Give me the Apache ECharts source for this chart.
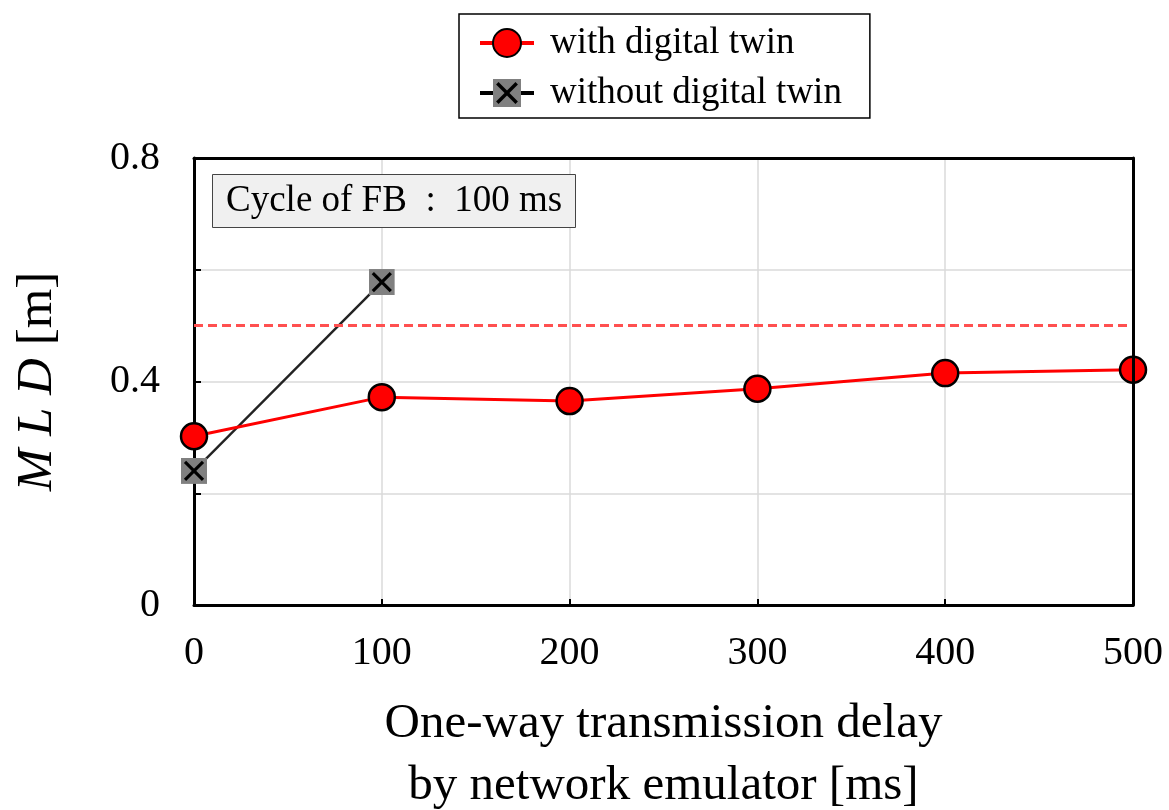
<!DOCTYPE html>
<html>
<head>
<meta charset="utf-8">
<script src="https://cdn.jsdelivr.net/npm/echarts@6/dist/echarts.min.js"></script>
<style>html,body{margin:0;padding:0;background:#fff}#c{width:1169px;height:810px}</style>
</head>
<body>
<div id="c"></div>
<script>
const delays = [0, 100, 200, 300, 400, 500];
const withTwin = [0.302, 0.372, 0.365, 0.387, 0.415, 0.421];
const withoutDelays = [0, 100];
const withoutTwin = [0.240, 0.578];
const thresholdValue = 0.5;
const yLabelsShown = ['0', '0.4', '0.8'];
const seriesNames = ['with digital twin', 'without digital twin'];
const noteText = 'Cycle of FB  :  100 ms';

const FONT = '"Liberation Serif", "DejaVu Serif", serif';
const xSvg = 'image://data:image/svg+xml;utf8,' + encodeURIComponent(
  '<svg xmlns="http://www.w3.org/2000/svg" width="26" height="26" viewBox="0 0 26 26">' +
  '<rect x="0" y="0" width="26" height="26" fill="#808080"/>' +
  '<line x1="4" y1="4" x2="22" y2="22" stroke="#000" stroke-width="3.2"/>' +
  '<line x1="22" y1="4" x2="4" y2="22" stroke="#000" stroke-width="3.2"/></svg>');

const frameAxis = {
  axisLine: {show: true, onZero: false, lineStyle: {color: '#000', width: 3}},
  axisTick: {show: false}, axisLabel: {show: false}, splitLine: {show: false}
};

const chart = echarts.init(document.getElementById('c'), null, {renderer: 'canvas'});
chart.setOption({
  backgroundColor: '#fff',
  animation: false,
  title: {
    text: noteText,
    left: 212, top: 174,
    padding: [8, 14, 8, 14],
    backgroundColor: '#f0f0f0',
    borderColor: '#444', borderWidth: 1,
    textStyle: {fontFamily: FONT, fontSize: 37, fontWeight: 'normal', color: '#000', lineHeight: 38}
  },
  legend: {
    orient: 'vertical',
    left: 459, top: 14,
    padding: [9, 28, 5, 19],
    itemGap: 10,
    itemWidth: 54, itemHeight: 35,
    borderColor: '#000', borderWidth: 1.5,
    textStyle: {fontFamily: FONT, fontSize: 37, color: '#000', lineHeight: 40, padding: [0, 0, 0, 11]},
    data: [
      {name: seriesNames[0], lineStyle: {width: 4}},
      {name: seriesNames[1], lineStyle: {width: 4, color: '#000'}}
    ]
  },
  grid: {left: 194, right: 36, top: 158, bottom: 205, outerBoundsMode: 'none', containLabel: false},
  xAxis: [{
    type: 'value', min: 0, max: 500, interval: 100,
    name: 'One-way transmission delay\nby network emulator [ms]',
    nameLocation: 'middle', nameGap: 88,
    nameTextStyle: {fontFamily: FONT, fontSize: 49, color: '#000', lineHeight: 62, verticalAlign: 'top'},
    axisLine: {onZero: false, lineStyle: {color: '#000', width: 3}},
    axisTick: {inside: true, length: 6, lineStyle: {color: '#000', width: 2}},
    axisLabel: {fontFamily: FONT, fontSize: 40, color: '#000', margin: 28},
    splitLine: {show: true, lineStyle: {color: '#dadada', width: 1.5}},
    z: 2
  }, Object.assign({type: 'value', position: 'top', min: 0, max: 500, interval: 100, z: 5}, frameAxis)],
  yAxis: [{
    type: 'value', min: 0, max: 0.8, interval: 0.2,
    name: '{i|M L D}{n| [m]}',
    nameLocation: 'middle', nameGap: 131, nameRotate: 90,
    nameTextStyle: {
      rich: {
        i: {fontFamily: FONT, fontSize: 51, fontStyle: 'italic', color: '#000'},
        n: {fontFamily: FONT, fontSize: 51, color: '#000'}
      }
    },
    axisLine: {onZero: false, lineStyle: {color: '#000', width: 3}},
    axisTick: {inside: true, length: 7, lineStyle: {color: '#000', width: 2}},
    axisLabel: {
      fontFamily: FONT, fontSize: 40, color: '#000', margin: 34,
      formatter: function (v) {
        const s = String(Math.round(v * 10) / 10);
        return yLabelsShown.indexOf(s) >= 0 ? s : '';
      }
    },
    splitLine: {show: true, lineStyle: {color: '#dadada', width: 1.5}},
    z: 2
  }, Object.assign({type: 'value', position: 'right', min: 0, max: 0.8, interval: 0.2, z: 5}, frameAxis)],
  series: [
    {
      name: seriesNames[1],
      type: 'line',
      data: withoutDelays.map((d, i) => [d, withoutTwin[i]]),
      symbol: xSvg, symbolSize: 26,
      lineStyle: {color: '#222', width: 2.4},
      itemStyle: {color: '#222'},
      z: 3
    },
    {
      name: seriesNames[0],
      type: 'line',
      data: delays.map((d, i) => [d, withTwin[i]]),
      symbol: 'circle', symbolSize: 26,
      lineStyle: {color: '#ff0000', width: 3},
      itemStyle: {color: '#ff0000', borderColor: '#000', borderWidth: 2.5},
      z: 4,
      markLine: {
        silent: true, symbol: 'none', label: {show: false},
        lineStyle: {color: '#ff5050', type: [9, 5], width: 2.8},
        data: [{yAxis: thresholdValue}]
      }
    }
  ]
});
</script>
</body>
</html>
